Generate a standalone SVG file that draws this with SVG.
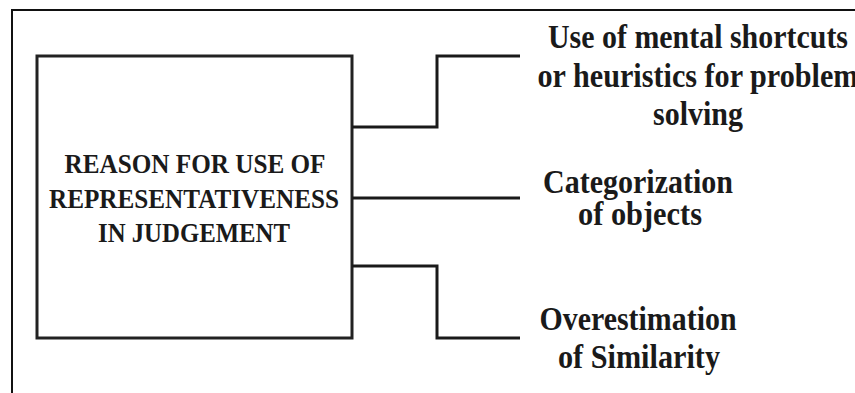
<svg xmlns="http://www.w3.org/2000/svg" width="855" height="393" viewBox="0 0 855 393">
  <style>
    .frame { fill: none; stroke: #111; stroke-width: 2; }
    .box { fill: #fff; stroke: #222; stroke-width: 3; }
    .conn { fill: none; stroke: #1a1a1a; stroke-width: 3; stroke-linejoin: miter; }
    .t { font-family: "Liberation Serif", "Times New Roman", serif; font-weight: bold; fill: #1a1a1a; text-anchor: middle; }
    .main { font-size: 28px; }
    .lbl { font-size: 33px; }
  </style>
  <rect x="0" y="0" width="855" height="393" fill="#fff"/>
  <path class="frame" d="M12,393 V10 H855"/>
  <g id="node-main">
    <rect class="box" x="37" y="56" width="315" height="282"/>
    <text class="t main" x="195" y="173" textLength="261" lengthAdjust="spacingAndGlyphs">REASON FOR USE OF</text>
    <text class="t main" x="194" y="208" textLength="290" lengthAdjust="spacingAndGlyphs">REPRESENTATIVENESS</text>
    <text class="t main" x="194" y="242" textLength="192" lengthAdjust="spacingAndGlyphs">IN JUDGEMENT</text>
  </g>
  <g id="connectors">
    <path class="conn" d="M352,127 H437 V56 H520"/>
    <path class="conn" d="M352,198 H520"/>
    <path class="conn" d="M352,266 H437 V338 H520"/>
  </g>
  <g id="node-heuristics">
    <text class="t lbl" x="698" y="48" textLength="300" lengthAdjust="spacingAndGlyphs">Use of mental shortcuts</text>
    <text class="t lbl" x="698" y="87" textLength="321" lengthAdjust="spacingAndGlyphs">or heuristics for problem</text>
    <text class="t lbl" x="698" y="125" textLength="90" lengthAdjust="spacingAndGlyphs">solving</text>
  </g>
  <g id="node-categorization">
    <text class="t lbl" x="638" y="193" textLength="190" lengthAdjust="spacingAndGlyphs">Categorization</text>
    <text class="t lbl" x="640" y="225" textLength="124" lengthAdjust="spacingAndGlyphs">of objects</text>
  </g>
  <g id="node-overestimation">
    <text class="t lbl" x="638" y="330" textLength="197" lengthAdjust="spacingAndGlyphs">Overestimation</text>
    <text class="t lbl" x="639" y="368" textLength="162" lengthAdjust="spacingAndGlyphs">of Similarity</text>
  </g>
</svg>
